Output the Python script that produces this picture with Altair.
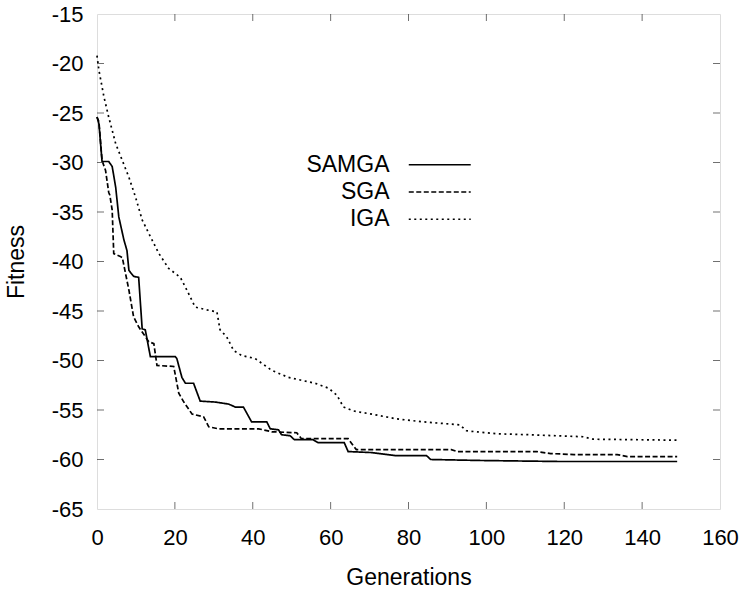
import altair as alt
import pandas as pd

# ---- data ----
samga_g = [0, 0.5, 1.3, 3.0, 3.9, 4.8, 5.6, 6.9, 7.7, 8.2, 9.4, 10.7, 11.6, 12.4, 13.7, 20.1, 20.5,
           21.8, 22.7, 24.8, 26.5, 30.4, 33.8, 35.5, 37.6, 39.7, 43.6, 44.5, 46.6, 47.4, 49.6, 50.7,
           55.5, 56.8, 63.5, 64.5, 70.5, 76.5, 84.6, 85.7, 98.6, 118.3, 149]
samga_v = [-25.4, -26.1, -29.9, -29.9, -30.4, -32.5, -35.5, -37.8, -38.9, -40.9, -41.5, -41.6, -46.8,
           -46.9, -49.6, -49.6, -49.8, -51.7, -52.3, -52.3, -54.1, -54.2, -54.4, -54.7, -54.7, -56.2,
           -56.2, -56.9, -57.0, -57.5, -57.6, -58.0, -58.0, -58.3, -58.3, -59.2, -59.3, -59.6, -59.6,
           -60.0, -60.1, -60.2, -60.2]

sga_g = [0, 0.5, 1.3, 2.2, 3.0, 3.3, 3.9, 4.3, 6.0, 6.5, 8.2, 9.4, 10.7, 13.3, 14.6, 15.4, 19.7, 21.0,
         22.3, 24.4, 27.4, 28.7, 31.2, 41.5, 44.9, 51.3, 52.5, 64.5, 66.6, 91, 92.6, 113, 116.5,
         122.5, 133.6, 136.2, 149]
sga_v = [-25.4, -25.9, -29.8, -30.8, -33.0, -33.3, -34.8, -39.2, -39.5, -39.6, -42.9, -45.6, -46.6,
         -48.1, -48.3, -50.5, -50.6, -53.3, -54.2, -55.4, -55.7, -56.7, -56.9, -56.9, -57.2, -57.3,
         -57.9, -57.9, -59.0, -59.0, -59.2, -59.2, -59.4, -59.5, -59.5, -59.7, -59.7]

iga_g = [0, 0.5, 1.8, 3.0, 4.8, 6.5, 8.2, 9.9, 11.6, 14.1, 15.9, 18.4, 21.4, 23.1, 25.2, 27.8, 30.8,
         31.6, 33.3, 35.1, 37.2, 40.6, 44.9, 49.1, 56, 59.5, 61.6, 63.3, 65.9, 71, 77, 83.8, 93.2,
         94.9, 102.6, 111, 124.8, 127.4, 149]
iga_v = [-19.2, -20.7, -23.4, -25.4, -28.1, -29.8, -31.5, -33.5, -35.8, -37.8, -39.2, -40.7, -41.6,
         -42.9, -44.6, -44.85, -45.1, -46.9, -47.6, -49.0, -49.5, -49.8, -51.0, -51.7, -52.3, -52.8,
         -53.5, -54.7, -55.1, -55.45, -55.9, -56.2, -56.5, -57.1, -57.4, -57.5, -57.7, -57.95, -58.05]

series_names = ["SAMGA", "SGA", "IGA"]
x_ticks = [0, 20, 40, 60, 80, 100, 120, 140, 160]
y_ticks = [-65, -60, -55, -50, -45, -40, -35, -30, -25, -20, -15]

# ---- tables ----
rows = []
for name, gs, vs in zip(series_names, [samga_g, sga_g, iga_g], [samga_v, sga_v, iga_v]):
    for g, v in zip(gs, vs):
        rows.append({"Generations": g, "Fitness": v, "Algorithm": name})
df = pd.DataFrame(rows)

bottom_df = pd.DataFrame({"Generations": x_ticks[1:-1], "Fitness": [y_ticks[0]] * 7})
top_df = pd.DataFrame({"Generations": x_ticks[1:-1], "Fitness": [y_ticks[-1]] * 7})
left_df = pd.DataFrame({"Generations": [x_ticks[0]] * 9, "Fitness": y_ticks[1:-1]})
right_df = pd.DataFrame({"Generations": [x_ticks[-1]] * 9, "Fitness": y_ticks[1:-1]})

FONT = "Liberation Sans"
xs = alt.Scale(domain=[0, 160], nice=False, zero=False)
ys = alt.Scale(domain=[-65, -15], nice=False, zero=False)

lines = alt.Chart(df).mark_line(color="black", strokeWidth=1.7).encode(
    x=alt.X("Generations:Q", scale=xs,
            axis=alt.Axis(values=x_ticks, title="Generations", grid=False, domain=False, ticks=False,
                          labelExpr="toString(datum.value)",
                          labelFont=FONT, labelFontSize=22, labelColor="black",
                          labelBaseline="alphabetic", labelPadding=35, labelFlush=False,
                          titleFont=FONT, titleFontSize=23, titleFontWeight="normal",
                          titleColor="black", titleY=75, titleBaseline="alphabetic")),
    y=alt.Y("Fitness:Q", scale=ys,
            axis=alt.Axis(values=y_ticks, title="Fitness", grid=False, domain=False, ticks=False,
                          labelExpr="toString(datum.value)",
                          labelFont=FONT, labelFontSize=22, labelColor="black",
                          labelBaseline="middle", labelPadding=14, labelFlush=False,
                          titleFont=FONT, titleFontSize=23, titleFontWeight="normal",
                          titleColor="black", titleX=-74, titleY=247.5,
                          titleBaseline="alphabetic")),
    strokeDash=alt.StrokeDash(
        "Algorithm:N",
        scale=alt.Scale(domain=series_names, range=[[1, 0], [5, 2.5], [2, 3.5]]),
        legend=alt.Legend(title=None, orient="none", legendX=331.25, legendY=139.25,
                          symbolType="M-4,0H4", symbolSize=240, symbolStrokeWidth=1.7,
                          symbolStrokeColor="black", symbolFillColor="transparent",
                          labelAlign="right", labelOffset={"expr": "-61.75"},
                          labelFont=FONT, labelFontSize=23, labelColor="black",
                          labelLimit=0, rowPadding=3.25, padding=0)),
)


def tick_layer(data, orient, xoff=0, yoff=0):
    return alt.Chart(data).mark_tick(orient=orient, size=7, thickness=1, color="#333",
                                     xOffset=xoff, yOffset=yoff).encode(
        x=alt.X("Generations:Q", scale=xs), y=alt.Y("Fitness:Q", scale=ys))


chart = alt.layer(
    lines,
    tick_layer(bottom_df, "vertical", yoff=-3.5),
    tick_layer(top_df, "vertical", yoff=3.5),
    tick_layer(left_df, "horizontal", xoff=3.5),
    tick_layer(right_df, "horizontal", xoff=-3.5),
).properties(
    width=623, height=495,
    autosize=alt.AutoSizeParams(type="none"),
    padding={"left": 97, "top": 14, "right": 24, "bottom": 81},
    background="white",
).configure_view(stroke="black", strokeWidth=1.6).configure(font=FONT)

chart.save("out.html", embed_options={"renderer": "svg", "actions": False})
